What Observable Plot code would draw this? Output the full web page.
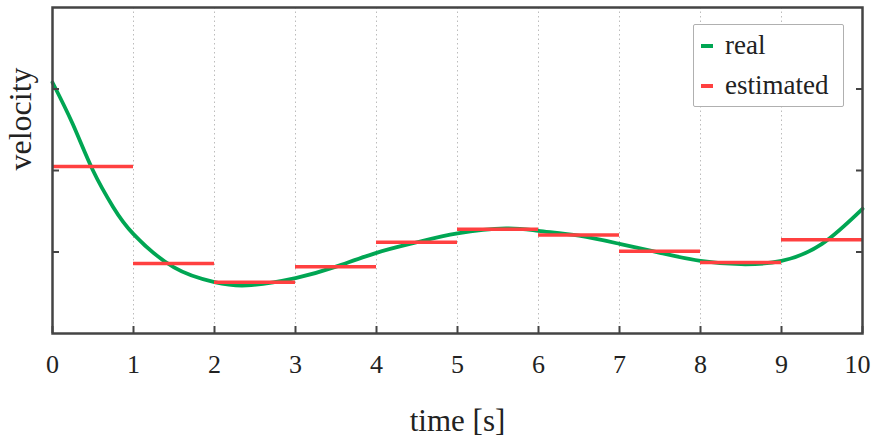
<!DOCTYPE html>
<html>
<head>
<meta charset="utf-8">
<script src="https://cdn.jsdelivr.net/npm/d3@7"></script>
<script src="https://cdn.jsdelivr.net/npm/@observablehq/plot@0.6"></script>
<style>
  html, body { margin: 0; padding: 0; background: #fff; }
  #wrap { position: relative; width: 874px; height: 440px; font-family: 'Liberation Serif', 'Times New Roman', Tinos, 'DejaVu Serif', serif; }
  #legend { position: absolute; left: 693px; top: 24px; width: 151px; height: 83px; box-sizing: border-box;
            border: 1.5px solid #b0b0b0; border-radius: 2px; background: #fff; font-size: 27px; color: #222; }
  .row { position: absolute; left: 7px; display: flex; align-items: center; }
  .sw { width: 12px; height: 4px; margin-right: 12px; }
</style>
</head>
<body>
<div id="wrap">
  <div id="chart"></div>
  <div id="legend">
    <div class="row" style="top:5px"><span class="sw" style="background:#00a653"></span>real</div>
    <div class="row" style="top:45px"><span class="sw" style="background:#ff4040"></span>estimated</div>
  </div>
</div>
<script>
// real velocity curve
const realT = [0, 0.25, 0.5, 0.75, 1, 1.5, 2, 2.4, 3, 3.5, 4, 4.5, 5, 5.6, 6, 6.5, 7, 7.5, 8, 8.5, 9, 9.5, 10];
const realV = [3.08, 2.57, 2.0, 1.55, 1.22, 0.81, 0.63, 0.59, 0.68, 0.82, 0.99, 1.12, 1.23, 1.29, 1.26, 1.2, 1.1, 0.99, 0.89, 0.85, 0.89, 1.1, 1.53];
// estimated piecewise-constant velocity, one value per 1 s interval
const estStart = [0, 1, 2, 3, 4, 5, 6, 7, 8, 9];
const estV = [2.05, 0.86, 0.63, 0.82, 1.12, 1.28, 1.21, 1.01, 0.87, 1.15];
const xTicks = [0, 1, 2, 3, 4, 5, 6, 7, 8, 9, 10];
const yTicks = [1, 2, 3];

const real = realT.map((t, i) => ({t, v: realV[i]}));
const est = estStart.map((t, i) => ({t0: t, t1: t + 1, v: estV[i]}));

const font = "'Liberation Serif', 'Times New Roman', Tinos, 'DejaVu Serif', serif";
const chart = Plot.plot({
  width: 874,
  height: 440,
  marginLeft: 52,
  marginRight: 12,
  marginTop: 7,
  marginBottom: 107,
  style: {fontFamily: font, background: "#fff", color: "#222"},
  x: {domain: [0, 10]},
  y: {domain: [0, 4]},
  marks: [
    Plot.gridX(xTicks.slice(1, -1), {stroke: "#bcbcbc", strokeOpacity: 1, strokeDasharray: "1.5,3", strokeWidth: 1}),
    Plot.line(real, {x: "t", y: "v", curve: "natural", stroke: "#00a653", strokeWidth: 3.8}),
    Plot.ruleY(est, {y: "v", x1: "t0", x2: "t1", stroke: "#ff4040", strokeWidth: 3.5}),
    Plot.axisX(xTicks.slice(0, -1), {anchor: "bottom", tickSize: 0, tickPadding: 21, fontSize: 26, fontFamily: font, label: null}),
    Plot.axisX(xTicks.slice(-1), {anchor: "bottom", tickSize: 0, tickPadding: 21, fontSize: 26, fontFamily: font, label: null, dx: -5}),
    Plot.axisX(xTicks, {anchor: "bottom", tickSize: -7, tickFormat: () => "", stroke: "#444", strokeWidth: 2, label: null}),
    Plot.axisY(yTicks, {anchor: "left", tickSize: -7, tickFormat: () => "", stroke: "#444", strokeWidth: 2, label: null}),
    Plot.axisY(yTicks, {anchor: "right", tickSize: -7, tickFormat: () => "", stroke: "#444", strokeWidth: 2, label: null}),
    Plot.frame({stroke: "#444", strokeWidth: 2.5}),
    Plot.text(["time [s]"], {frameAnchor: "bottom", dy: 88, fontSize: 31, fontFamily: font, fill: "#222", lineAnchor: "middle"}),
    Plot.text(["velocity"], {frameAnchor: "left", dx: -32, rotate: -90, fontSize: 32, fontFamily: font, fill: "#222", lineAnchor: "middle"})
  ]
});
document.getElementById("chart").appendChild(chart);
</script>
</body>
</html>
